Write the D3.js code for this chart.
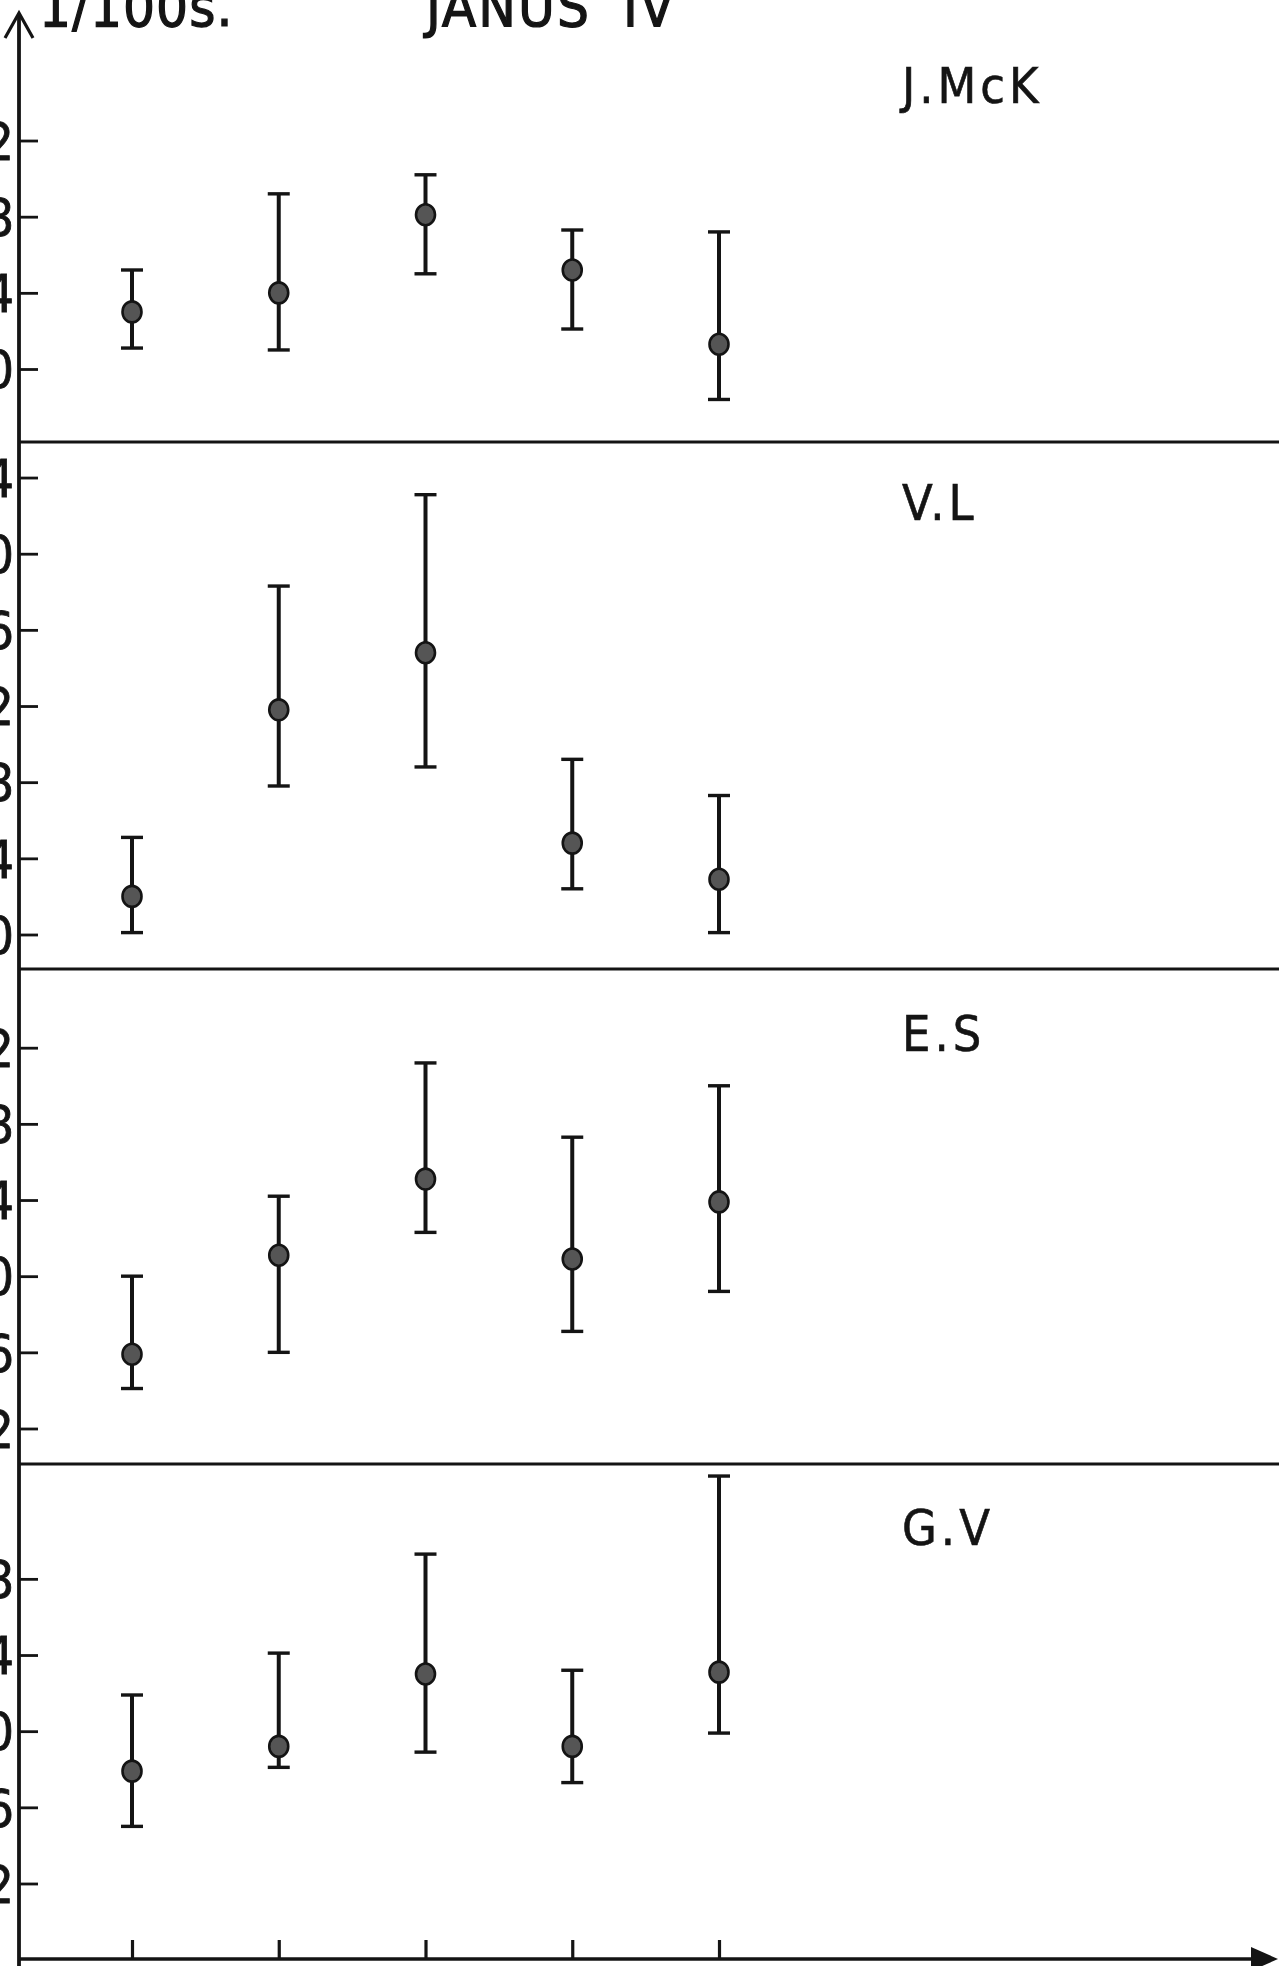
<!DOCTYPE html>
<html>
<head>
<meta charset="utf-8">
<script src="https://cdn.jsdelivr.net/npm/d3@7"></script>
<style>
  html, body { margin: 0; padding: 0; background: #fff; overflow: hidden; }
  svg { display: block; }
  text { font-family: "Liberation Sans Narrow", "DejaVu Sans Condensed", "Liberation Sans", sans-serif; fill: #141414; }
</style>
</head>
<body>
<svg id="chart" width="1279" height="1966"></svg>
<script>
// Sessions along the horizontal axis
const sessions = [1, 2, 3, 4, 5];

// Subjects, one panel each
const subjects = ["J.McK", "V.L", "E.S", "G.V"];

// Mean time per session (1/100 s) and the lower / upper ends of each bar
const meanJMcK = [3.0, 4.0, 8.1, 5.2, 1.3];
const lowJMcK  = [1.1, 1.0, 5.0, 2.1, -1.6];
const highJMcK = [5.2, 9.2, 10.2, 7.3, 7.2];

const meanVL = [2.0, 11.8, 14.8, 4.8, 2.9];
const lowVL  = [0.1, 7.8, 8.8, 2.4, 0.1];
const highVL = [5.1, 18.3, 23.1, 9.2, 7.3];

const meanES = [15.9, 21.1, 25.1, 20.9, 23.9];
const lowES  = [14.1, 16.0, 22.3, 17.1, 19.2];
const highES = [20.0, 24.2, 31.2, 27.3, 30.0];

const meanGV = [17.9, 19.2, 23.0, 19.2, 23.1];
const lowGV  = [15.0, 18.1, 18.9, 17.3, 19.9];
const highGV = [21.9, 24.1, 29.3, 23.2, 33.4];

// Tick values on each panel's vertical scale
const ticksJMcK = [0, 4, 8, 12];
const ticksVL   = [0, 4, 8, 12, 16, 20, 24];
const ticksES   = [12, 16, 20, 24, 28, 32];
const ticksGV   = [12, 16, 20, 24, 28];

const titleUnit = "1/100s.";
const titleMain = "JANUS";
const titleNum  = "IV";

// ---- layout ----
const W = 1279, H = 1966;
const axisX = 19;          // vertical axis position
const baseY = 1959;        // horizontal axis position
const pxPerUnit = 19.04;   // common vertical scale of all panels
const bands = [[30, 442], [442, 969], [969, 1464], [1464, 1959]];
// one reference value per panel and the pixel row it sits on
const refValue = [0, 0, 12, 12];
const refPixel = [369, 934.5, 1428.5, 1883.5];
const nameBaseline = [103, 520, 1051, 1545];

const panelData = [
  { name: subjects[0], mean: meanJMcK, low: lowJMcK, high: highJMcK, ticks: ticksJMcK },
  { name: subjects[1], mean: meanVL,   low: lowVL,   high: highVL,   ticks: ticksVL },
  { name: subjects[2], mean: meanES,   low: lowES,   high: highES,   ticks: ticksES },
  { name: subjects[3], mean: meanGV,   low: lowGV,   high: highGV,   ticks: ticksGV }
];

const svg = d3.select("#chart");
const ink = "#141414";

const x = d3.scalePoint().domain(sessions).range([132, 719]);

// ---- panels ----
panelData.forEach((p, i) => {
  const [top, bottom] = bands[i];
  const y = d3.scaleLinear()
    .domain([refValue[i] - (bottom - refPixel[i]) / pxPerUnit,
             refValue[i] + (refPixel[i] - top) / pxPerUnit])
    .range([bottom, top]);

  // ticks pointing inward, numbers on the outer side of the axis
  const ga = svg.append("g")
    .attr("transform", `translate(${axisX},0)`)
    .call(d3.axisLeft(y).tickValues(p.ticks).tickSizeInner(-19).tickSizeOuter(0).tickPadding(5));
  ga.select(".domain").remove();
  ga.attr("font-family", null).attr("font-size", null);
  ga.selectAll(".tick line").attr("stroke", ink).attr("stroke-width", 2.8);
  ga.selectAll(".tick text")
    .attr("fill", ink)
    .attr("stroke", ink).attr("stroke-width", 0.8)
    .style("font-size", "52px")
    .attr("dy", "0.36em");

  const g = svg.append("g");
  const rows = sessions.map((s, j) => ({ s, m: p.mean[j], lo: p.low[j], hi: p.high[j] }));

  const bars = g.selectAll("g.bar").data(rows).join("g").attr("class", "bar");
  bars.append("line")
    .attr("x1", d => x(d.s)).attr("x2", d => x(d.s))
    .attr("y1", d => y(d.lo)).attr("y2", d => y(d.hi))
    .attr("stroke", ink).attr("stroke-width", 4);
  bars.append("line")
    .attr("x1", d => x(d.s) - 11).attr("x2", d => x(d.s) + 11)
    .attr("y1", d => y(d.hi)).attr("y2", d => y(d.hi))
    .attr("stroke", ink).attr("stroke-width", 3.4);
  bars.append("line")
    .attr("x1", d => x(d.s) - 11).attr("x2", d => x(d.s) + 11)
    .attr("y1", d => y(d.lo)).attr("y2", d => y(d.lo))
    .attr("stroke", ink).attr("stroke-width", 3.4);
  bars.append("ellipse")
    .attr("cx", d => x(d.s)).attr("cy", d => y(d.m))
    .attr("rx", 9.5).attr("ry", 10.5)
    .attr("fill", "#555").attr("stroke", ink).attr("stroke-width", 2.6);

  svg.append("text")
    .attr("x", 902).attr("y", nameBaseline[i])
    .attr("stroke", ink).attr("stroke-width", 0.6)
    .style("font-size", "50px")
    .style("letter-spacing", "4px")
    .text(p.name);
});

// ---- panel separators ----
svg.selectAll("line.sep").data(bands.slice(1).map(b => b[0])).join("line")
  .attr("class", "sep")
  .attr("x1", axisX).attr("x2", W)
  .attr("y1", d => d).attr("y2", d => d)
  .attr("stroke", ink).attr("stroke-width", 3);

// ---- horizontal axis with inward ticks ----
const gx = svg.append("g")
  .attr("transform", `translate(0,${baseY})`)
  .call(d3.axisBottom(x).tickSizeInner(-19).tickSizeOuter(0).tickFormat(""));
gx.select(".domain").remove();
gx.selectAll(".tick line").attr("stroke", ink).attr("stroke-width", 3.2);

svg.append("line")
  .attr("x1", axisX).attr("x2", 1256)
  .attr("y1", baseY).attr("y2", baseY)
  .attr("stroke", ink).attr("stroke-width", 3.4);
svg.append("path")
  .attr("d", `M1251,${baseY - 12}L1278,${baseY}L1251,${baseY + 12}Z`)
  .attr("fill", ink);

// ---- vertical axis with open arrowhead ----
svg.append("line")
  .attr("x1", axisX).attr("x2", axisX)
  .attr("y1", 15).attr("y2", H)
  .attr("stroke", ink).attr("stroke-width", 3.8);
svg.append("path")
  .attr("d", `M${axisX - 14},38L${axisX},13L${axisX + 14},38`)
  .attr("fill", "none").attr("stroke", ink).attr("stroke-width", 3.2);

// ---- heading ----
svg.append("text")
  .attr("x", 39).attr("y", 26)
  .attr("stroke", ink).attr("stroke-width", 1.2)
  .style("font-size", "56px")
  .style("letter-spacing", "1px")
  .text(titleUnit);
const t = svg.append("text")
  .attr("x", 426).attr("y", 26)
  .attr("stroke", ink).attr("stroke-width", 1.2)
  .style("font-size", "56px")
  .style("letter-spacing", "2px");
t.append("tspan").text(titleMain);
t.append("tspan").attr("x", 623).text(titleNum);
</script>
</body>
</html>
